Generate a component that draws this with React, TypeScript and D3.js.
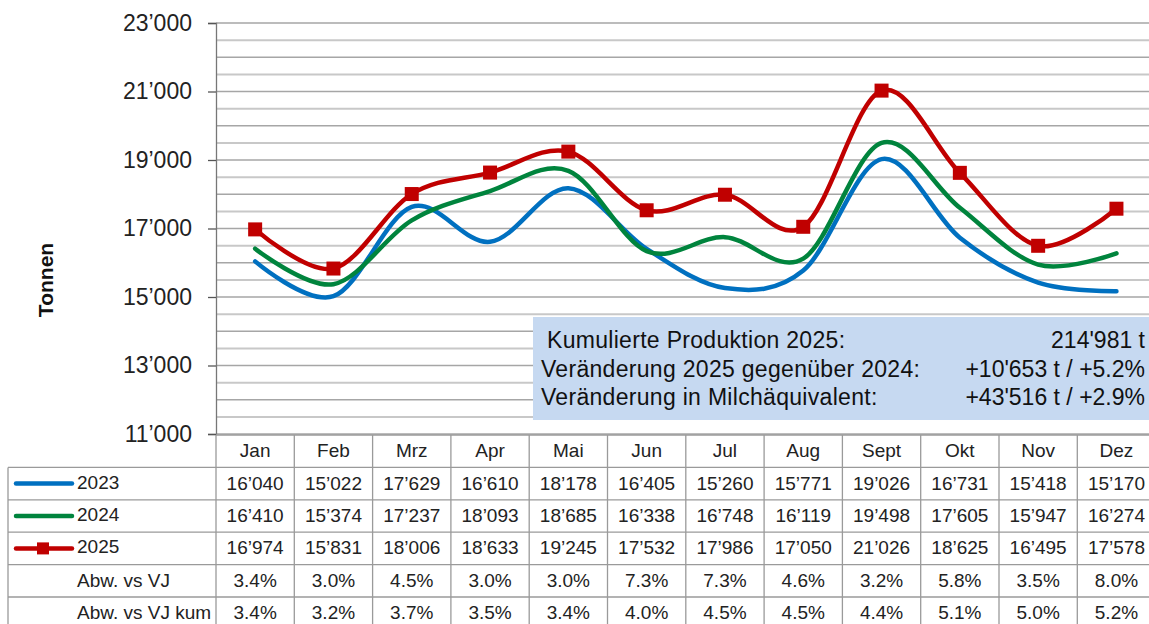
import { useEffect, useRef } from "react";
import * as d3 from "d3";

const months = ["Jan", "Feb", "Mrz", "Apr", "Mai", "Jun", "Jul", "Aug", "Sept", "Okt", "Nov", "Dez"];
const prod2023 = [16040, 15022, 17629, 16610, 18178, 16405, 15260, 15771, 19026, 16731, 15418, 15170];
const prod2024 = [16410, 15374, 17237, 18093, 18685, 16338, 16748, 16119, 19498, 17605, 15947, 16274];
const prod2025 = [16974, 15831, 18006, 18633, 19245, 17532, 17986, 17050, 21026, 18625, 16495, 17578];
const abwVJ = ["3.4%", "3.0%", "4.5%", "3.0%", "3.0%", "7.3%", "7.3%", "4.6%", "3.2%", "5.8%", "3.5%", "8.0%"];
const abwVJKum = ["3.4%", "3.2%", "3.7%", "3.5%", "3.4%", "4.0%", "4.5%", "4.5%", "4.4%", "5.1%", "5.0%", "5.2%"];
const yTicks = [11000, 13000, 15000, 17000, 19000, 21000, 23000];
const infoLabels = ["Kumulierte Produktion 2025:", "Veränderung 2025 gegenüber 2024:", "Veränderung in Milchäquivalent:"];
const infoValues = ["214'981 t", "+10'653 t / +5.2%", "+43'516 t / +2.9%"];

const series = [
  { name: "2023", values: prod2023, color: "#0070C0", marker: false },
  { name: "2024", values: prod2024, color: "#00843D", marker: false },
  { name: "2025", values: prod2025, color: "#C00000", marker: true },
];

const fmt = (v: number) => d3.format(",")(v).replace(",", "’");
const font = "'Liberation Sans', Arial, sans-serif";

const App = () => {
  const ref = useRef<SVGSVGElement>(null);

  useEffect(() => {
    const width = 1149;
    const height = 624;
    const left = 216;
    const colW = 78.3;
    const top = 23;
    const bottom = 434;

    const svg = d3.select(ref.current);
    svg.selectAll("*").remove();
    svg.attr("width", width).attr("height", height).style("font-family", font);

    const x = d3.scaleBand().domain(months).range([left, left + colW * months.length]);
    const y = d3.scaleLinear().domain([11000, 23000]).range([bottom, top]);

    // gridlines every 500
    const grid = d3.range(11000, 23001, 500);
    svg.append("g")
      .selectAll("line")
      .data(grid)
      .join("line")
      .attr("x1", left)
      .attr("x2", width)
      .attr("y1", d => y(d))
      .attr("y2", d => y(d))
      .attr("stroke", d => (d % 1000 === 0 ? "#a6a6a6" : "#c8c8c8"))
      .attr("stroke-width", d => (d % 1000 === 0 ? 1.4 : 2));

    // y axis
    const yAxis = svg.append("g").attr("transform", `translate(${left},0)`)
      .call(d3.axisLeft(y).tickValues(yTicks).tickFormat(d => fmt(+d)).tickSize(8).tickPadding(16));
    yAxis.select(".domain").attr("stroke", "#777").attr("stroke-width", 1.3);
    yAxis.selectAll(".tick line").attr("stroke", "#555").attr("stroke-width", 1.3);
    yAxis.selectAll(".tick text")
      .attr("font-size", 23)
      .attr("font-family", font)
      .attr("fill", "#222");

    svg.append("text")
      .attr("transform", "translate(53,280) rotate(-90)")
      .attr("text-anchor", "middle")
      .attr("font-size", 21)
      .attr("font-weight", "bold")
      .attr("fill", "#111")
      .text("Tonnen");

    // info box
    const box = svg.append("g");
    box.append("rect")
      .attr("x", 533).attr("y", 317).attr("width", width - 533).attr("height", 103)
      .attr("fill", "#C6D9F1");
    box.selectAll("text.lbl")
      .data(infoLabels)
      .join("text")
      .attr("class", "lbl")
      .attr("x", (d, i) => (i === 0 ? 547 : 541))
      .attr("y", (d, i) => 348 + i * 28.5)
      .attr("font-size", 23)
      .attr("letter-spacing", 0.3)
      .attr("fill", "#111")
      .text(d => d);
    box.selectAll("text.val")
      .data(infoValues)
      .join("text")
      .attr("class", "val")
      .attr("x", 1145)
      .attr("y", (d, i) => 348 + i * 28.5)
      .attr("text-anchor", "end")
      .attr("font-size", 23)
      .attr("fill", "#111")
      .text(d => d);

    // lines
    const line = d3.line<number>()
      .x((d, i) => (x(months[i]) as number) + x.bandwidth() / 2)
      .y(d => y(d))
      .curve(d3.curveCatmullRom.alpha(0));

    series.forEach(s => {
      svg.append("path")
        .datum(s.values)
        .attr("fill", "none")
        .attr("stroke", s.color)
        .attr("stroke-width", 4.5)
        .attr("stroke-linecap", "round")
        .attr("d", line);
      if (s.marker) {
        svg.append("g")
          .selectAll("rect")
          .data(s.values)
          .join("rect")
          .attr("x", (d, i) => (x(months[i]) as number) + x.bandwidth() / 2 - 7)
          .attr("y", d => y(d) - 7)
          .attr("width", 14)
          .attr("height", 14)
          .attr("fill", s.color);
      }
    });

    // data table
    const rowTop = 435;
    const rowH = 32.4;
    const tableRight = left + colW * months.length;
    const tbl = svg.append("g").attr("font-size", 19).attr("fill", "#222");
    const gridColor = "#9a9a9a";

    // horizontal lines
    for (let r = 0; r <= 6; r++) {
      tbl.append("line")
        .attr("x1", r === 0 ? left : 8)
        .attr("x2", tableRight)
        .attr("y1", rowTop + r * rowH)
        .attr("y2", rowTop + r * rowH)
        .attr("stroke", gridColor)
        .attr("stroke-width", 1.3);
    }
    // vertical lines
    tbl.append("line")
      .attr("x1", 8).attr("x2", 8)
      .attr("y1", rowTop + rowH).attr("y2", height)
      .attr("stroke", gridColor).attr("stroke-width", 1.3);
    d3.range(months.length + 1).forEach(i => {
      tbl.append("line")
        .attr("x1", left + i * colW).attr("x2", left + i * colW)
        .attr("y1", rowTop).attr("y2", height)
        .attr("stroke", gridColor).attr("stroke-width", 1.3);
    });

    const rows: string[][] = [
      months,
      prod2023.map(fmt),
      prod2024.map(fmt),
      prod2025.map(fmt),
      abwVJ,
      abwVJKum,
    ];
    rows.forEach((vals, r) => {
      tbl.selectAll(`text.r${r}`)
        .data(vals)
        .join("text")
        .attr("class", `r${r}`)
        .attr("x", (d, i) => (x(months[i]) as number) + x.bandwidth() / 2)
        .attr("y", rowTop + r * rowH + rowH / 2 + 6)
        .attr("text-anchor", "middle")
        .text(d => d);
    });

    // legend in table
    series.forEach((s, i) => {
      const cy = rowTop + (i + 1) * rowH + rowH / 2;
      tbl.append("line")
        .attr("x1", 16).attr("x2", 72)
        .attr("y1", cy).attr("y2", cy)
        .attr("stroke", s.color)
        .attr("stroke-width", 4.5)
        .attr("stroke-linecap", "round");
      if (s.marker) {
        tbl.append("rect")
          .attr("x", 37).attr("y", cy - 6).attr("width", 12).attr("height", 12)
          .attr("fill", s.color);
      }
      tbl.append("text")
        .attr("x", 77)
        .attr("y", cy + 5)
        .text(s.name);
    });
    ["Abw. vs VJ", "Abw. vs VJ kum"].forEach((t, i) => {
      tbl.append("text")
        .attr("x", 77)
        .attr("y", rowTop + (i + 4) * rowH + rowH / 2 + 6)
        .text(t);
    });
  }, []);

  return (
    <svg ref={ref} style={{ position: "absolute", left: 0, top: 0, background: "#fff" }} />
  );
};

export default App;
